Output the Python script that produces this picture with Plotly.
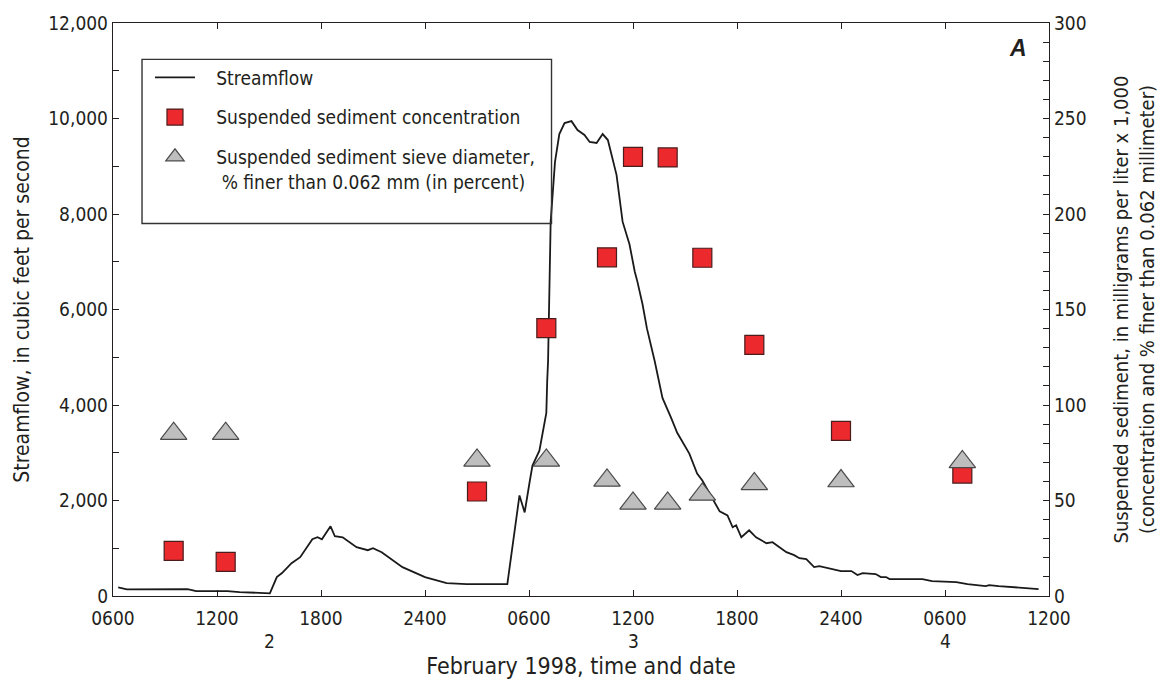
import plotly.graph_objects as go

# ---- data (hours since 0000, February 2, 1998) ----
flow_hours = [6.3, 6.8, 10.3, 10.8, 12.6, 13.3, 15.05, 15.45, 15.75, 16.3, 16.8, 17.5, 17.8, 18.05,
              18.55, 18.8, 19.25, 20.05, 20.7, 21.0, 21.5, 22.7, 24.0, 25.25, 26.4, 28.75, 29.45,
              29.75, 30.05, 30.2, 30.6, 31.0, 31.05, 31.1, 31.25, 31.5, 31.75, 32.05, 32.45, 32.8,
              33.2, 33.5, 33.9, 34.25, 34.55, 35.05, 35.4, 35.8, 36.1, 36.25, 36.55, 36.8, 37.25,
              37.7, 38.2, 38.55, 39.25, 39.7, 40.0, 40.8, 41.0, 41.45, 41.75, 41.95, 42.25, 42.7,
              43.1, 43.7, 44.05, 44.45, 44.85, 45.3, 45.6, 46.0, 46.45, 46.75, 47.2, 48.0, 48.6,
              48.95, 49.25, 50.0, 50.3, 50.6, 50.8, 52.7, 53.25, 54.65, 55.3, 56.1, 56.35, 56.55,
              57.1, 59.4]
flow_cfs = [180, 140, 146, 104, 104, 83, 56, 396, 480, 688, 813, 1188, 1230, 1188,
            1460, 1251, 1230, 1022, 959, 1001, 917, 605, 396, 271, 250, 250, 2106,
            1751, 2419, 2731, 3044, 3836, 4500, 4921, 7840, 9091, 9674, 9904, 9945, 9758,
            9654, 9508, 9487, 9674, 9549, 8820, 7840, 7360, 6797, 6589, 6109, 5609, 4921,
            4149, 3732, 3419, 2982, 2565, 2419, 1897, 1772, 1689, 1439, 1480, 1230, 1376,
            1230, 1105, 1126, 1022, 917, 855, 792, 771, 605, 626, 584, 521, 521,
            438, 480, 459, 396, 396, 354, 354, 313, 292, 250, 229, 208, 229,
            208, 146]

sample_hours = [9.5, 12.5, 27.0, 31.0, 34.5, 36.0, 38.0, 40.0, 43.0, 48.0, 55.0]
concentration = [23.6, 17.9, 54.7, 140.3, 177.3, 229.9, 229.6, 177.1, 131.5, 86.5, 64.1]
pct_finer = [85, 85, 71, 71, 60.5, 48.5, 48.5, 53.2, 58.7, 60.2, 70.2]

x_tickvals = [6, 12, 18, 24, 30, 36, 42, 48, 54, 60]
x_ticktext = ["0600", "1200", "1800", "2400", "0600", "1200", "1800", "2400", "0600", "1200"]
midnight_ticks = [24, 48]
date_positions = [15, 36, 54]
date_labels = ["2", "3", "4"]

FONT = "Liberation Sans Narrow, Arial Narrow, DejaVu Sans Condensed, Roboto Condensed, Liberation Sans, sans-serif"
TXT = "#231f20"
PAD = "\u00a0\u00a0\u00a0"

fig = go.Figure()
fig.add_trace(go.Scatter(x=flow_hours, y=flow_cfs, mode="lines", name=PAD + "Streamflow",
                         line=dict(color="#1a1a1a", width=1.8), legendgroup="a"))
fig.add_trace(go.Scatter(x=sample_hours, y=concentration, mode="markers", yaxis="y2",
                         name=PAD + "Suspended sediment concentration", legendgroup="b",
                         marker=dict(symbol="square", size=19, color="#ec2a2e",
                                     line=dict(color="#4a1c1c", width=1.2))))
fig.add_trace(go.Scatter(x=sample_hours, y=pct_finer, mode="markers", yaxis="y2",
                         name=PAD + "Suspended sediment sieve diameter,<br>" + PAD + "\u00a0% finer than 0.062 mm (in percent)",
                         legendgroup="c",
                         marker=dict(symbol="triangle-up", size=23, color="#bebebe",
                                     line=dict(color="#4a4a4a", width=1.2))))

fig.update_layout(
    width=1167, height=688,
    margin=dict(l=113, r=117, t=20, b=92),
    paper_bgcolor="white", plot_bgcolor="white",
    font=dict(family=FONT, size=19, color=TXT),
    showlegend=True,
    legend=dict(x=0.0395, y=0.938, xanchor="left", yanchor="top",
                bgcolor="rgba(0,0,0,0)", borderwidth=0, itemwidth=40,
                font=dict(family=FONT, size=19, color=TXT),
                traceorder="grouped", tracegroupgap=12, valign="top"),
    xaxis=dict(range=[6, 60], tickmode="array", tickvals=x_tickvals, ticktext=x_ticktext,
               ticks="inside", ticklen=6, tickwidth=1.2, tickcolor="#231f20",
               ticklabelstandoff=5,
               showline=True, linecolor="#231f20", linewidth=1.4, mirror="ticks",
               showgrid=False, zeroline=False,
               title=dict(text="February 1998, time and date", standoff=29,
                          font=dict(family=FONT, size=23, color=TXT))),
    xaxis2=dict(range=[6, 60], overlaying="x", anchor="y", tickmode="array",
                tickvals=midnight_ticks, ticks="inside", ticklen=12, tickwidth=1.2,
                tickcolor="#231f20", showticklabels=False, showline=False, mirror="ticks",
                showgrid=False, zeroline=False),
    yaxis=dict(range=[0, 12000], tickmode="linear", tick0=0, dtick=2000, tickformat=",d",
               ticks="inside", ticklen=6, tickwidth=1.2, tickcolor="#231f20",
               minor=dict(dtick=1000, ticks="inside", ticklen=6, tickwidth=1.2, tickcolor="#231f20"),
               showline=True, linecolor="#231f20", linewidth=1.4, mirror=True,
               showgrid=False, zeroline=False,
               title=dict(text="Streamflow, in cubic feet per second", standoff=12,
                          font=dict(family=FONT, size=21, color=TXT))),
    yaxis2=dict(range=[0, 300], overlaying="y", side="right", tickmode="linear", tick0=0, dtick=50,
                ticks="inside", ticklen=6, tickwidth=1.2, tickcolor="#231f20",
                minor=dict(dtick=10, ticks="inside", ticklen=6, tickwidth=1.2, tickcolor="#231f20"),
                showline=True, linecolor="#231f20", linewidth=1.4,
                showgrid=False, zeroline=False,
                title=dict(text="Suspended sediment, in milligrams per liter x 1,000<br>(concentration and % finer than 0.062 millimeter)",
                           standoff=28, font=dict(family=FONT, size=20, color=TXT))),
)

# legend frame
fig.add_shape(type="rect", xref="paper", yref="paper", x0=0.031, x1=0.4685, y0=0.65, y1=0.9366,
              line=dict(color="#333333", width=1.4), fillcolor="rgba(0,0,0,0)", layer="above")

# date labels
for xp, lab in zip(date_positions, date_labels):
    fig.add_annotation(x=xp, y=-0.078, xref="x", yref="paper", text=lab, showarrow=False,
                       font=dict(family=FONT, size=19, color=TXT), yanchor="middle")

# panel letter
fig.add_annotation(x=0.967, y=0.956, xref="paper", yref="paper", text="<b><i>A</i></b>",
                   xanchor="center", yanchor="middle", showarrow=False,
                   font=dict(family="Liberation Sans, Arial, sans-serif", size=23, color=TXT))

fig.write_html("out.html")
